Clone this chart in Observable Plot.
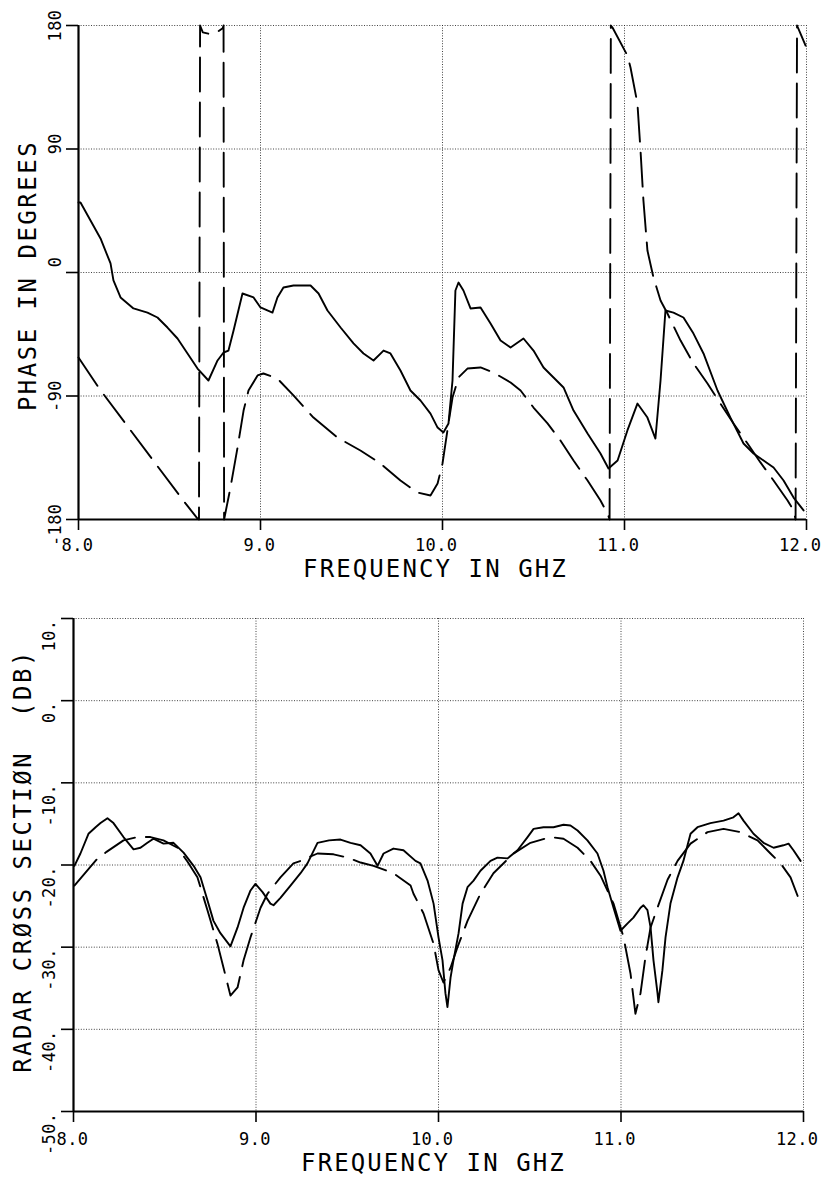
<!DOCTYPE html>
<html>
<head>
<meta charset="utf-8">
<script src="https://cdn.jsdelivr.net/npm/d3@7"></script>
<script src="https://cdn.jsdelivr.net/npm/@observablehq/plot@0.6"></script>
<style>
  html, body { margin: 0; padding: 0; background: white; }
  #chart { width: 825px; height: 1186px; }
  #chart svg { display: block; }
  #chart svg text { white-space: pre; }
</style>
</head>
<body>
<div id="chart"></div>
<script>
// ---------- tick values & labels ----------
const freqTicks = [8, 9, 10, 11, 12];
const freqTickLabels = ["8.0", "9.0", "10.0", "11.0", "12.0"];
const phaseTicks = [180, 90, 0, -90, -180];
const phaseTickLabels = ["180", "90", "0", "-90", "-180"];
const rcsTicks = [10, 0, -10, -20, -30, -40, -50];
const rcsTickLabels = ["10.", "0.", "-10.", "-20.", "-30.", "-40.", "-50."];
const xTitle = "FREQUENCY IN GHZ";
const phaseTitle = "PHASE IN DEGREES";
const rcsTitle = "RADAR CRØSS SECTIØN  (DB)";

// ---------- phase: solid (measured) ----------
const phaseSolidF = [8.0, 8.011, 8.066, 8.121, 8.176, 8.192, 8.231, 8.302, 8.379, 8.434, 8.489, 8.544, 8.599, 8.654, 8.714, 8.764, 8.797, 8.824, 8.852, 8.901, 8.962, 9.0, 9.066, 9.093, 9.126, 9.181, 9.275, 9.319, 9.368, 9.44, 9.511, 9.566, 9.621, 9.676, 9.714, 9.769, 9.824, 9.879, 9.934, 9.973, 10.005, 10.033, 10.055, 10.071, 10.088, 10.115, 10.154, 10.209, 10.264, 10.319, 10.374, 10.445, 10.5, 10.555, 10.61, 10.665, 10.72, 10.797, 10.868, 10.912, 10.962, 11.016, 11.071, 11.126, 11.17, 11.198, 11.225, 11.269, 11.324, 11.379, 11.434, 11.511, 11.582, 11.654, 11.709, 11.764, 11.819, 11.874, 11.929, 11.984];
const phaseSolidV = [51, 51.0, 37.9, 24.8, 6.6, -5.8, -18.2, -26.2, -29.2, -32.8, -40.1, -48.1, -59.0, -70.0, -78.7, -64.1, -58.3, -56.9, -42.3, -15.3, -18.2, -25.5, -29.2, -18.2, -10.9, -9.5, -9.5, -15.3, -27.7, -40.1, -51.7, -59.0, -64.1, -56.9, -59.0, -71.4, -86.0, -93.3, -102.8, -113.0, -116.6, -110.0, -78.7, -13.1, -7.3, -13.1, -26.2, -25.5, -37.2, -49.6, -54.7, -48.1, -56.9, -69.2, -76.5, -83.8, -100.6, -117.3, -131.9, -142.8, -137.0, -115.1, -95.5, -105.7, -121.0, -78.7, -27.7, -29.2, -32.8, -44.5, -59.0, -86.0, -105.7, -124.6, -131.9, -137.0, -142.1, -151.6, -164.0, -173.4];

// ---------- phase: dashed (computed), wraps at +/-180 ----------
const phaseDashF = [8.0, 8.11, 8.275, 8.423, 8.588, 8.654, 8.662, 8.668, 8.683, 8.714, 8.76, 8.792, 8.797, 8.8, 8.835, 8.874, 8.907, 8.934, 8.984, 9.016, 9.093, 9.181, 9.291, 9.423, 9.549, 9.659, 9.769, 9.863, 9.934, 9.973, 10.0, 10.027, 10.055, 10.088, 10.137, 10.209, 10.28, 10.374, 10.429, 10.5, 10.577, 10.648, 10.72, 10.797, 10.868, 10.907, 10.918, 10.925, 10.934, 11.016, 11.033, 11.071, 11.088, 11.104, 11.126, 11.159, 11.198, 11.236, 11.308, 11.379, 11.456, 11.527, 11.599, 11.676, 11.747, 11.819, 11.896, 11.929, 11.94, 11.948, 11.967, 11.995];
const phaseDashV = [-62, -83.8, -113.0, -139.2, -168.3, -179.3, -180, 180, 175, 174, 175, 178, 180, -180, -156.7, -127.5, -100.6, -86.0, -75.0, -73.6, -77.3, -89.6, -105.7, -120.3, -129.7, -139.2, -151.6, -160.4, -162.5, -153.8, -139.2, -115.1, -91.1, -76.5, -70.0, -69.2, -72.9, -80.2, -86.0, -98.4, -110.0, -122.4, -137.0, -151.6, -166.2, -175.6, -180, 180, 178.5, 158.1, 149.4, 123.2, 88.9, 52.5, 16.0, -3.6, -20.4, -29.9, -49.6, -66.3, -80.9, -95.5, -110.0, -124.6, -138.4, -151.6, -166.2, -173.4, -180, 180, 174, 165.4];

// ---------- RCS: solid (measured) ----------
const rcsSolidF = [8.005, 8.038, 8.082, 8.121, 8.148, 8.186, 8.219, 8.274, 8.329, 8.367, 8.405, 8.438, 8.493, 8.548, 8.603, 8.658, 8.696, 8.734, 8.767, 8.805, 8.86, 8.899, 8.932, 8.97, 8.997, 9.036, 9.079, 9.096, 9.134, 9.189, 9.244, 9.282, 9.337, 9.4, 9.463, 9.518, 9.573, 9.627, 9.666, 9.699, 9.753, 9.808, 9.874, 9.901, 9.94, 9.973, 10.0, 10.022, 10.038, 10.049, 10.066, 10.082, 10.11, 10.132, 10.159, 10.192, 10.23, 10.285, 10.323, 10.378, 10.433, 10.488, 10.521, 10.575, 10.63, 10.685, 10.723, 10.762, 10.816, 10.871, 10.904, 10.926, 10.959, 10.997, 11.036, 11.068, 11.107, 11.123, 11.145, 11.162, 11.178, 11.2, 11.205, 11.227, 11.244, 11.271, 11.31, 11.342, 11.381, 11.419, 11.49, 11.562, 11.616, 11.644, 11.671, 11.726, 11.781, 11.836, 11.89, 11.918, 11.945, 11.984];
const rcsSolidV = [-20.1, -18.6, -16.2, -15.4, -14.9, -14.3, -14.9, -16.6, -18.1, -17.9, -17.3, -16.8, -17.4, -17.3, -18.5, -20.1, -21.5, -24.3, -26.8, -28.3, -29.9, -27.6, -25.2, -23.1, -22.3, -23.3, -24.7, -24.9, -24.0, -22.5, -21.0, -19.8, -17.3, -17.0, -16.9, -17.3, -17.6, -18.6, -20.1, -18.6, -18.0, -18.2, -19.5, -19.8, -21.9, -24.7, -28.8, -31.6, -35.6, -37.3, -33.7, -31.6, -28.3, -24.7, -22.7, -21.9, -20.7, -19.5, -19.1, -19.2, -18.2, -16.6, -15.6, -15.4, -15.4, -15.1, -15.2, -15.8, -17.0, -18.6, -20.7, -22.7, -25.2, -28.0, -27.1, -26.4, -25.2, -24.9, -25.5, -27.6, -31.6, -35.6, -36.7, -32.8, -28.8, -24.7, -21.5, -19.5, -16.2, -15.4, -14.9, -14.6, -14.2, -13.7, -14.6, -16.2, -17.3, -17.9, -17.6, -17.4, -18.2, -19.5];

// ---------- RCS: dashed (computed) ----------
const rcsDashF = [8.005, 8.132, 8.181, 8.274, 8.351, 8.422, 8.493, 8.57, 8.625, 8.679, 8.734, 8.789, 8.822, 8.86, 8.899, 8.932, 8.97, 9.025, 9.063, 9.134, 9.205, 9.244, 9.337, 9.425, 9.501, 9.573, 9.644, 9.753, 9.847, 9.863, 9.918, 9.973, 10.0, 10.027, 10.066, 10.104, 10.159, 10.23, 10.301, 10.411, 10.504, 10.614, 10.685, 10.762, 10.833, 10.888, 10.959, 11.014, 11.052, 11.079, 11.107, 11.134, 11.162, 11.2, 11.255, 11.31, 11.381, 11.474, 11.562, 11.655, 11.748, 11.819, 11.874, 11.929, 11.984];
const rcsDashV = [-22.5, -19.2, -18.4, -17.0, -16.6, -16.6, -17.0, -17.9, -19.6, -21.5, -25.5, -29.6, -32.5, -35.9, -34.9, -31.6, -28.8, -25.2, -23.5, -21.5, -19.8, -19.5, -18.6, -18.7, -19.1, -19.7, -20.1, -21.0, -22.5, -23.5, -25.9, -29.6, -32.8, -34.3, -32.5, -30.0, -26.8, -23.5, -21.0, -18.6, -17.3, -16.6, -16.8, -17.9, -19.5, -21.3, -24.7, -28.8, -33.2, -38.1, -35.6, -31.2, -27.6, -25.2, -21.8, -19.5, -17.4, -16.0, -15.6, -16.0, -17.0, -18.6, -19.8, -21.5, -24.7];

// ---------- build tables ----------
const toRows = (F, V) => F.map((f, i) => ({f, v: V[i]}));
const phaseSolid = toRows(phaseSolidF, phaseSolidV);
const phaseDash = toRows(phaseDashF, phaseDashV);
const rcsSolid = toRows(rcsSolidF, rcsSolidV);
const rcsDash = toRows(rcsDashF, rcsDashV);

const FONT = "'DejaVu Sans Mono', 'Liberation Mono', monospace";
const gridStyle = {stroke: "#222", strokeOpacity: 0.85, strokeWidth: 1, strokeDasharray: "1,1.6"};
const lineW = 1.9;

function panel({height, mt, mb, ml, mr, yDomain, yTicks, yLabels, yGrid, yTitle, yLabelDy, yLabelDx, yTitleDx, yTitleDy, xLabelDy, xTitleDy, xTitleDx, solid, dash}) {
  const svg = Plot.plot({
    width: 825, height,
    marginTop: mt, marginBottom: mb, marginLeft: ml, marginRight: mr,
    x: {domain: [8, 12], axis: null},
    y: {domain: yDomain, axis: null},
    style: {fontFamily: FONT, background: "white", color: "black", overflow: "visible"},
    marks: [
      Plot.gridX([9, 10, 11, 12], gridStyle),
      Plot.gridY(yGrid, gridStyle),
      Plot.axisX(freqTicks, {anchor: "bottom", fill: "none", tickSize: 11, stroke: "black", strokeWidth: 1.6}),
      Plot.axisY(yTicks, {anchor: "left", fill: "none", tickSize: 12, stroke: "black", strokeWidth: 1.6}),
      Plot.ruleX([8], {stroke: "black", strokeWidth: 2.2}),
      Plot.ruleY([yDomain[0]], {stroke: "black", strokeWidth: 2.2}),
      Plot.line(dash, {x: "f", y: "v", stroke: "black", strokeWidth: lineW, strokeDasharray: "34,11", curve: "linear"}),
      Plot.line(solid, {x: "f", y: "v", stroke: "black", strokeWidth: lineW, curve: "linear"}),
      Plot.text(freqTicks, {x: d => d, frameAnchor: "bottom", lineAnchor: "top", textAnchor: "end", dx: 15, dy: xLabelDy,
        text: (d, i) => freqTickLabels[i], fontSize: 17, fill: "black"}),
      Plot.text(yTicks, {y: d => d, frameAnchor: "left", rotate: -90, textAnchor: "end", lineAnchor: "middle",
        dx: yLabelDx, dy: yLabelDy, text: (d, i) => yLabels[i], fontSize: 17, fill: "black"}),
      Plot.text([xTitle], {frameAnchor: "bottom", lineAnchor: "top", textAnchor: "middle", dx: xTitleDx, dy: xTitleDy, text: d => d, fontSize: 24, fill: "black"}),
      Plot.text([yTitle], {frameAnchor: "left", rotate: -90, textAnchor: "middle", lineAnchor: "middle", dx: yTitleDx, dy: yTitleDy, text: d => d, fontSize: 24, fill: "black"})
    ]
  });
  svg.querySelectorAll("text").forEach(t => {
    const s = t.textContent;
    t.setAttribute("xml:space", "preserve");
    if (s === xTitle || s === phaseTitle || s === rcsTitle) t.setAttribute("letter-spacing", s === xTitle ? "2.1" : "2.5");
    else t.setAttribute("letter-spacing", "0.4");
  });
  return svg;
}

const chart = document.getElementById("chart");
chart.appendChild(panel({
  height: 590, mt: 25, mb: 71, ml: 78, mr: 19,
  yDomain: [-180, 180], yTicks: phaseTicks, yLabels: phaseTickLabels, yGrid: [90, 0, -90, 180],
  yTitle: phaseTitle, yLabelDy: -16, yLabelDx: -23, yTitleDx: -50, yTitleDy: 3, xLabelDy: 19, xTitleDy: 40, xTitleDx: -7,
  solid: phaseSolid, dash: phaseDash
}));
chart.appendChild(panel({
  height: 596, mt: 28, mb: 75, ml: 73, mr: 22,
  yDomain: [-50, 10], yTicks: rcsTicks, yLabels: rcsTickLabels, yGrid: [-40, -30, -20, -10, 0, 10],
  yTitle: rcsTitle, yLabelDy: 1, yLabelDx: -24, yTitleDx: -50, yTitleDy: -4, xLabelDy: 21, xTitleDy: 42, xTitleDx: -5,
  solid: rcsSolid, dash: rcsDash
}));
</script>
</body>
</html>
